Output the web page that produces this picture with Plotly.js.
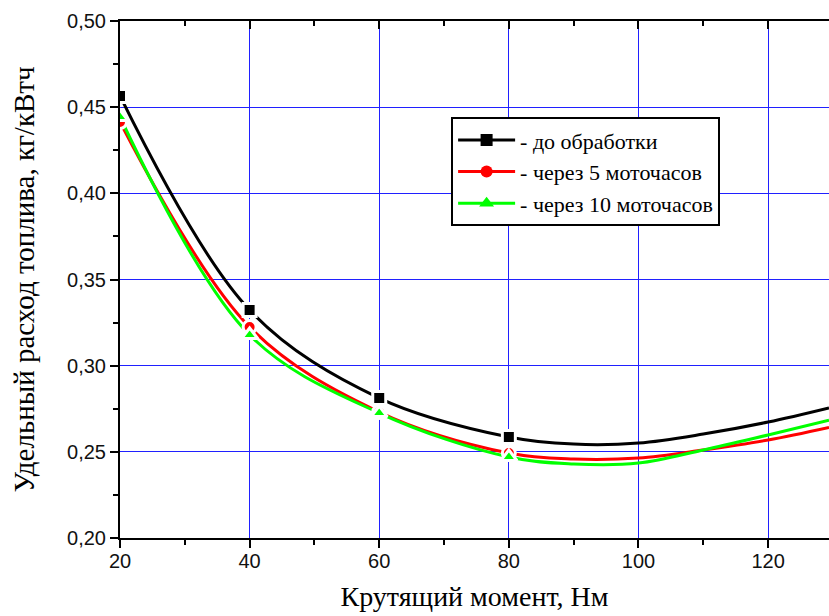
<!DOCTYPE html>
<html>
<head>
<meta charset="utf-8">
<script src="https://cdn.plot.ly/plotly-3.0.1.min.js"></script>
<style>html,body{margin:0;padding:0;background:#fff;}#chart{width:829px;height:616px;}</style>
</head>
<body>
<div id="chart"></div>
<script>
// Measured points (with markers)
var torque = [20, 40, 60, 80];
var before = [0.4565, 0.3323, 0.2812, 0.2586];
var after5 = [0.4414, 0.3224, 0.2731, 0.2493];
var after10 = [0.4443, 0.3178, 0.2725, 0.2470];

// Smoothed curve continuation
var curveX = [20, 40, 60, 80, 90, 100, 110, 120, 129.4];
var beforeCurve = [0.4565, 0.3323, 0.2812, 0.2586, 0.2545, 0.2551, 0.2603, 0.2673, 0.2755];
var after5Curve = [0.4414, 0.3224, 0.2731, 0.2493, 0.2458, 0.2464, 0.2511, 0.2569, 0.2642];
var after10Curve = [0.4443, 0.3178, 0.2725, 0.2470, 0.2430, 0.2435, 0.2511, 0.2598, 0.2683];

var names = ['- до обработки', '- через 5 моточасов', '- через 10 моточасов'];
var colors = ['#000000', '#ff0000', '#00ff00'];
var symbols = ['square', 'circle', 'triangle-up'];
var sizes = [13, 13, 14];
var legSizes = [12, 12, 13];
var pts = [before, after5, after10];
var curves = [beforeCurve, after5Curve, after10Curve];

var traces = [];
for (var i = 0; i < 3; i++) {
  traces.push({x: curveX, y: curves[i], mode: 'lines', type: 'scatter',
    line: {color: colors[i], width: 3, shape: 'spline', smoothing: 1},
    showlegend: false, hoverinfo: 'skip'});
}
for (var i = 0; i < 3; i++) {
  traces.push({x: torque, y: pts[i], mode: 'markers', type: 'scatter',
    marker: {color: colors[i], symbol: symbols[i], size: sizes[i], line: {color: '#ffffff', width: 3}},
    showlegend: false});
}
for (var i = 0; i < 3; i++) {
  traces.push({x: [null], y: [null], mode: 'lines+markers', type: 'scatter', name: names[i],
    line: {color: colors[i], width: 3},
    marker: {color: colors[i], symbol: symbols[i], size: legSizes[i]}});
}
// invisible trace to activate top axis
traces.push({x: [null], y: [null], xaxis: 'x2', yaxis: 'y', mode: 'markers', showlegend: false, hoverinfo: 'skip'});

var gridBlue = '#2020ff';
var layout = {
  width: 829, height: 616,
  margin: {l: 120, r: 0, t: 21, b: 78},
  paper_bgcolor: '#ffffff', plot_bgcolor: '#ffffff',
  separators: ', ',
  showlegend: true,
  font: {family: 'Liberation Sans, Arial, sans-serif', color: '#000'},
  xaxis: {
    range: [20, 129.4], tickvals: [20, 40, 60, 80, 100, 120], ticktext: ['20','40','60','80','100','120'],
    showgrid: true, gridcolor: gridBlue, gridwidth: 1,
    showline: true, linecolor: '#000', linewidth: 2, mirror: true,
    ticks: 'outside', ticklen: 8, tickwidth: 2, tickcolor: '#000',
    minor: {dtick: 10, tick0: 0, ticks: 'outside', ticklen: 5, tickwidth: 2, tickcolor: '#000', showgrid: false},
    tickfont: {size: 20, family: 'Liberation Sans, Arial, sans-serif', color: '#111'},
    ticklabelstandoff: -4,
    zeroline: false,
    title: {text: 'Крутящий момент, Нм', font: {family: 'Liberation Serif, Times New Roman, serif', size: 28, color: '#000'}, standoff: 15},
    automargin: false
  },
  xaxis2: {
    overlaying: 'x', side: 'top', range: [20, 129.4], tickvals: [20, 40, 60, 80, 100, 120],
    showticklabels: false, showgrid: false, showline: false, zeroline: false,
    ticks: 'inside', ticklen: 8, tickwidth: 2, tickcolor: '#000',
    minor: {dtick: 10, tick0: 0, ticks: 'inside', ticklen: 5, tickwidth: 2, tickcolor: '#000', showgrid: false}
  },
  yaxis: {
    range: [0.2, 0.5], dtick: 0.05, tick0: 0.2, tickformat: '.2f',
    showgrid: true, gridcolor: gridBlue, gridwidth: 1,
    showline: true, linecolor: '#000', linewidth: 2, mirror: true,
    ticks: 'outside', ticklen: 8, tickwidth: 2, tickcolor: '#000',
    minor: {dtick: 0.025, tick0: 0.2, ticks: 'outside', ticklen: 5, tickwidth: 2, tickcolor: '#000', showgrid: false},
    tickfont: {size: 20, family: 'Liberation Sans, Arial, sans-serif', color: '#111'},
    zeroline: false,
    title: {text: 'Удельный расход топлива, кг/кВтч', font: {family: 'Liberation Serif, Times New Roman, serif', size: 29, color: '#000'}, standoff: 24},
    automargin: false
  },
  legend: {
    x: 0.467, y: 0.814, xanchor: 'left', yanchor: 'top',
    bgcolor: '#ffffff', bordercolor: '#000', borderwidth: 2,
    font: {family: 'Liberation Serif, Times New Roman, serif', size: 22, color: '#000'},
    itemwidth: 57, tracegroupgap: 0
  }
};
Plotly.newPlot('chart', traces, layout, {displayModeBar: false, staticPlot: true});
</script>
</body>
</html>
